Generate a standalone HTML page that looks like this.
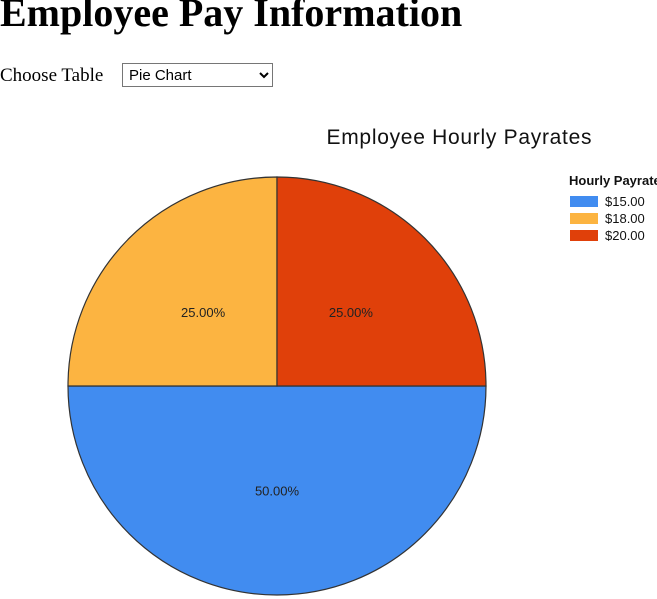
<!DOCTYPE html>
<html><head><meta charset="utf-8"><style>
body{margin:0;width:657px;height:599px;overflow:hidden;background:#fff;position:relative;font-family:"Liberation Serif",serif}
h1{position:absolute;left:0;top:-11px;margin:0;font-size:40px;font-weight:bold;white-space:nowrap}
.lbl{position:absolute;left:0;top:65px;font-size:19px}
select{position:absolute;left:122px;top:63px;width:151px;height:24px;font-family:"Liberation Sans",sans-serif;font-size:15px;border:1px solid #767676;background:#fff;padding:0 2px}
svg{position:absolute;left:0;top:0}
</style></head><body>
<h1>Employee Pay Information</h1>
<span class="lbl">Choose Table</span>
<select><option>Pie Chart</option></select>
<svg id="chart" width="657" height="599" font-family="Liberation Sans, sans-serif">
<text x="459" y="144" font-size="21" text-anchor="middle" fill="#111" textLength="265">Employee Hourly Payrates</text>
<text x="569" y="185" font-size="13" font-weight="bold" fill="#111">Hourly Payrate</text>
</svg>
<script>
const categories=["$15.00","$18.00","$20.00"];
const values=[50,25,25];
const colors=["#418cf0","#fcb441","#e0400a"];
const svg=document.getElementById('chart');
const NS='http://www.w3.org/2000/svg';
const cx=277,cy=386,r=209;
const total=values.reduce((a,b)=>a+b,0);
let ang=Math.PI/2;
values.forEach((v,i)=>{
  const a0=ang,a1=ang+v/total*2*Math.PI;ang=a1;
  const p=document.createElementNS(NS,'path');
  const s=[cx+r*Math.cos(a0-Math.PI/2),cy+r*Math.sin(a0-Math.PI/2)];
  const e=[cx+r*Math.cos(a1-Math.PI/2),cy+r*Math.sin(a1-Math.PI/2)];
  const large=(a1-a0)>Math.PI?1:0;
  p.setAttribute('d',`M${cx},${cy}L${s[0]},${s[1]}A${r},${r} 0 ${large} 1 ${e[0]},${e[1]}Z`);
  p.setAttribute('fill',colors[i]);p.setAttribute('stroke','#333');p.setAttribute('stroke-width','1.2');
  
  
  svg.appendChild(p);
  const m=(a0+a1)/2-Math.PI/2;
  const t=document.createElementNS(NS,'text');
  t.setAttribute('x',cx+r*0.5*Math.cos(m));t.setAttribute('y',cy+r*0.5*Math.sin(m)+5);
  t.setAttribute('text-anchor','middle');t.setAttribute('font-size','13');t.setAttribute('fill','#222');
  t.textContent=(v/total*100).toFixed(2)+'%';
  
  
  svg.appendChild(t);
  const sw=document.createElementNS(NS,'rect');
  sw.setAttribute('x',570);sw.setAttribute('y',196+i*17);sw.setAttribute('width',28);sw.setAttribute('height',11);sw.setAttribute('fill',colors[i]);
  
  
  svg.appendChild(sw);
  const lt=document.createElementNS(NS,'text');
  lt.setAttribute('x',605);lt.setAttribute('y',206+i*17);lt.setAttribute('font-size','13');lt.setAttribute('fill','#111');
  lt.textContent=categories[i];
  
  
  svg.appendChild(lt);
});
</script>
</body></html>
